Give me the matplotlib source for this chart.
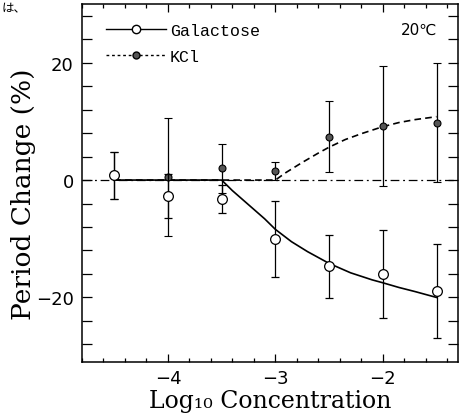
import matplotlib
matplotlib.use("Agg")
import matplotlib.pyplot as plt
from matplotlib.ticker import MultipleLocator
from matplotlib.lines import Line2D

# ---- data ----
log_conc = [-4.5, -4.0, -3.5, -3.0, -2.5, -2.0, -1.5]
gal_mean = [0.8, -2.7, -3.2, -10.0, -14.7, -16.0, -18.9]
gal_err = [4.0, 3.7, 2.4, 6.5, 5.4, 7.5, 8.0]
kcl_mean = [0.8, 0.5, 2.0, 1.5, 7.4, 9.2, 9.8]
kcl_err = [4.0, 10.0, 4.2, 1.5, 6.0, 10.2, 10.2]

# fitted curves
gal_fit_x = [-4.5, -3.5, -3.4, -3.25, -3.1, -3.0, -2.85, -2.7, -2.5, -2.3, -2.1, -2.0, -1.85, -1.7, -1.5]
gal_fit_y = [0.0, 0.0, -1.8, -4.2, -6.6, -8.4, -10.5, -12.2, -14.2, -15.8, -17.0, -17.5, -18.3, -19.0, -20.0]
kcl_fit_x = [-4.5, -3.0, -2.9, -2.75, -2.6, -2.5, -2.35, -2.2, -2.0, -1.85, -1.7, -1.5]
kcl_fit_y = [0.0, 0.0, 1.3, 3.0, 4.6, 5.6, 6.9, 7.9, 9.1, 9.8, 10.3, 10.8]

x_ticks = [-4, -3, -2]
y_ticks = [-20, 0, 20]

fig = plt.figure(figsize=(4.59, 4.14), dpi=100)
ax = fig.add_axes([82 / 459, 1 - 363 / 414, (458 - 82) / 459, (363 - 5) / 414])

ax.axhline(0, color="black", lw=0.9, ls=(0, (7, 3, 1.5, 3)), zorder=1)
ax.plot(gal_fit_x, gal_fit_y, color="black", lw=1.2, zorder=2)
ax.plot(kcl_fit_x, kcl_fit_y, color="black", lw=1.2, ls=(0, (4, 2.5)), zorder=2)

ax.errorbar(log_conc, kcl_mean, yerr=kcl_err, fmt="o", ms=5, mfc="#555555",
            mec="black", mew=0.8, ecolor="black", elinewidth=0.9, capsize=3,
            capthick=0.9, zorder=3)
ax.errorbar(log_conc, gal_mean, yerr=gal_err, fmt="o", ms=7, mfc="white",
            mec="black", mew=0.9, ecolor="black", elinewidth=0.9, capsize=3,
            capthick=0.9, zorder=4)

ax.set_xlim(-4.8, -1.3)
ax.set_ylim(-31, 30)
ax.set_xticks(x_ticks)
ax.set_xticklabels(["\u22124", "\u22123", "\u22122"])
ax.set_yticks(y_ticks)
ax.set_yticklabels(["\u221220", "0", "20"])
ax.xaxis.set_minor_locator(MultipleLocator(0.2))
ax.yaxis.set_minor_locator(MultipleLocator(4))
ax.tick_params(axis="both", which="both", direction="in", top=True, right=True,
               labelsize=13, width=0.9)
ax.tick_params(axis="y", which="major", length=7, pad=6)
ax.tick_params(axis="y", which="minor", length=7)
ax.tick_params(axis="x", which="major", length=6, pad=5)
ax.tick_params(axis="x", which="minor", length=3)
for s in ax.spines.values():
    s.set_linewidth(1.1)

serif = ["DejaVu Serif", "DejaVu Sans"]
ax.set_xlabel("Log\u2081\u2080 Concentration", family=serif, fontsize=17)
ax.xaxis.label.set_va("baseline")
ax.xaxis.set_label_coords(0.5, (363 - 408) / 358)
ax.set_ylabel("Period Change (%)", family=serif, fontsize=19)
ax.yaxis.label.set_va("center")
ax.yaxis.set_label_coords((24 - 82) / 376, 0.47)

mono = ["Liberation Mono", "DejaVu Sans"]
handles = [
    Line2D([], [], color="black", lw=1.0, marker="o", ms=6, mfc="white", mec="black"),
    Line2D([], [], color="black", lw=1.0, ls=(0, (2, 2)), marker="o", ms=5, mfc="#555555", mec="black"),
]
leg = ax.legend(handles, ["Galactose", "KCl"], loc="upper left", frameon=False,
                prop={"family": mono, "size": 12}, handlelength=3.6,
                handletextpad=0.2, labelspacing=0.7, borderaxespad=0.5,
                bbox_to_anchor=(0.025, 0.99))

ax.text(0.944, 0.95, "20\u2103", transform=ax.transAxes, ha="right", va="top",
        family=["DejaVu Sans"], fontsize=11)

fig.text(0.003, 0.995, "は、", ha="left", va="top",
         family=["Noto Sans CJK JP", "DejaVu Sans"], fontsize=9)

fig.savefig("out.png", dpi=100)
